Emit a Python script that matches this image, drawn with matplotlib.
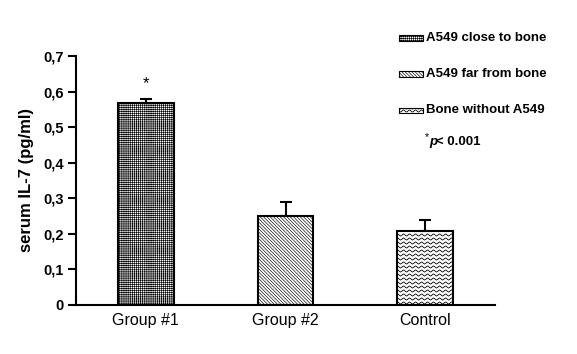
import numpy as np
import matplotlib
matplotlib.use("Agg")
import matplotlib.pyplot as plt
from matplotlib.patches import Rectangle
from matplotlib.lines import Line2D
from matplotlib.transforms import IdentityTransform

# Data
groups = ["Group #1", "Group #2", "Control"]
means = [0.568, 0.250, 0.208]
errors = [0.012, 0.040, 0.030]
legend_labels = ["A549 close to bone", "A549 far from bone", "Bone without A549"]
yticks = [0, 0.1, 0.2, 0.3, 0.4, 0.5, 0.6, 0.7]
ytick_labels = ["0", "0,1", "0,2", "0,3", "0,4", "0,5", "0,6", "0,7"]
hatches = ["++++++++", "\\" * 10, None]  # None -> wavy pattern drawn by hand

plt.rcParams["font.family"] = ["Liberation Sans", "DejaVu Sans"]
plt.rcParams["hatch.linewidth"] = 0.45

W, H = 577, 354
fig = plt.figure(figsize=(W / 100, H / 100), dpi=100)
ax = fig.add_axes([76 / W, 1 - 305 / H, (495 - 76) / W, (305 - 56) / H])


def fig_xy(x, y):
    # pixel position (from top-left) -> figure fraction
    return x / W, 1 - y / H


def add_waves(patch, parent, spacing=4.0, period=6.0, amp=1.0, zorder=2):
    # wavy hatch: sine lines clipped to the patch
    bb = patch.get_window_extent()
    xs = np.arange(bb.x0 - period, bb.x1 + period, 0.5)
    for y0 in np.arange(bb.y0 + spacing / 2, bb.y1, spacing):
        ys = y0 + amp * np.sin(2 * np.pi * xs / period)
        ln = Line2D(xs, ys, transform=IdentityTransform(), color="black",
                    lw=0.6, zorder=zorder)
        parent.add_artist(ln)
        ln.set_clip_path(patch)


x = np.arange(len(groups))
bars = ax.bar(x, means, width=0.4, color="white", edgecolor="black",
              linewidth=1.5, zorder=1)
for b, h in zip(bars, hatches):
    if h is not None:
        b.set_hatch(h)

ax.errorbar(x, means, yerr=[np.zeros(len(means)), errors], fmt="none",
            ecolor="black", elinewidth=1.5, capsize=4, capthick=1.5, zorder=3)

ax.set_xlim(-0.5, 2.5)
ax.set_ylim(0, 0.7)
ax.set_yticks(yticks)
ax.set_yticklabels(ytick_labels, fontsize=10.5, fontweight="bold")
ax.set_xticks(x)
ax.set_xticklabels(groups, fontsize=11.5)
ax.tick_params(axis="y", length=6, width=1.5, direction="out", pad=3)
ax.tick_params(axis="x", length=0, pad=6)
for s in ["top", "right"]:
    ax.spines[s].set_visible(False)
for s in ["left", "bottom"]:
    ax.spines[s].set_linewidth(1.5)

ax.set_ylabel("serum IL-7 (pg/ml)", fontsize=12, fontweight="bold")
ax.yaxis.set_label_coords(-0.1, 0.5)

# significance star above group #1
ax.text(x[0], means[0] + errors[0] + 0.03, "*", ha="center", va="baseline",
        fontsize=12)

# wavy fill for control bar
for b, h in zip(bars, hatches):
    if h is None:
        add_waves(b, ax)

# hand-made legend
leg_y = [38, 74, 110]
for lab, h, yc in zip(legend_labels, hatches, leg_y):
    x0, y0 = fig_xy(399, yc + 2.5)
    r = Rectangle((x0, y0), 24 / W, 5 / H, transform=fig.transFigure,
                  facecolor="white", edgecolor="black", lw=0.8, hatch=h)
    fig.add_artist(r)
    if h is None:
        add_waves(r, fig, spacing=3.0)
    fig.text(*fig_xy(426, yc), lab, fontsize=9.5, fontweight="bold",
             va="center")

fig.text(*fig_xy(425, 137), "*", fontsize=7.5, va="center")
fig.text(*fig_xy(429, 142), "p", fontsize=9.5, style="italic",
         fontweight="bold", va="center")
fig.text(*fig_xy(436, 142), "< 0.001", fontsize=9.5, fontweight="bold",
         va="center")

fig.savefig("out.png", dpi=100)
plt.close(fig)
